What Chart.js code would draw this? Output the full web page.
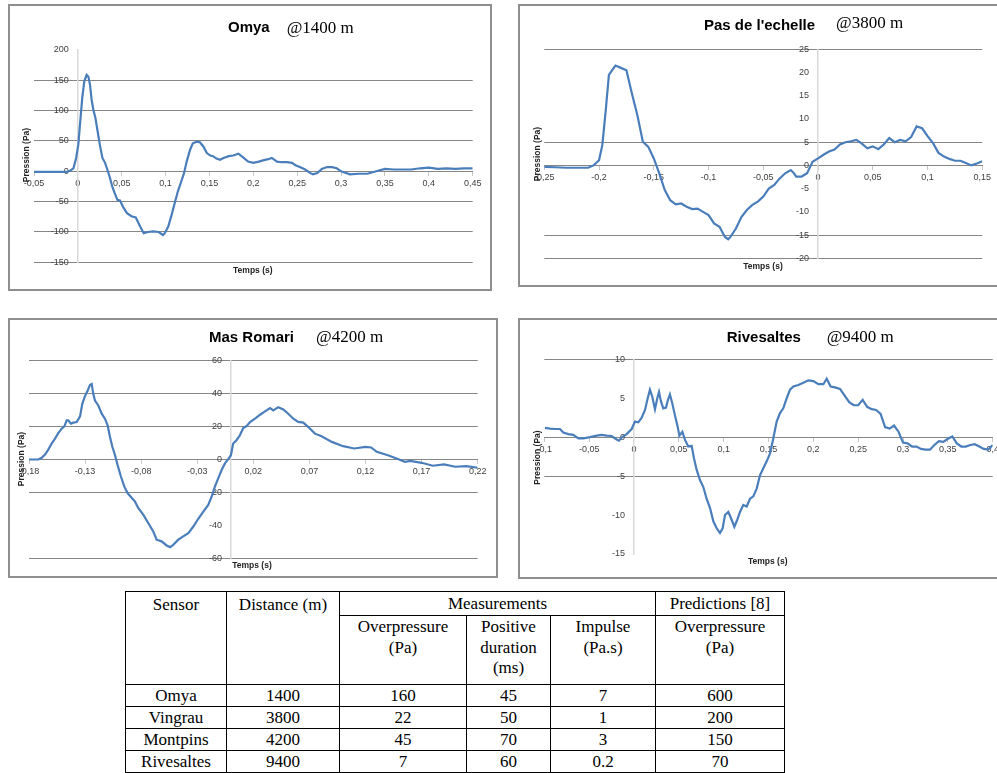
<!DOCTYPE html>
<html lang="fr">
<head>
<meta charset="utf-8">
<title>Pression mesurée aux capteurs</title>
<script src="https://cdn.jsdelivr.net/npm/chart.js@4.4.1/dist/chart.umd.min.js"></script>
<style>
  html, body { margin: 0; padding: 0; background: #fff; }
  body { width: 997px; height: 773px; position: relative; overflow: hidden; }
  .panel { position: absolute; box-sizing: border-box; border: 2px solid #8f8f8f; background: #fff; }
  .panel canvas { display: block; }
  #p1 { left: 8px; top: 4px; width: 484px; height: 287px; }
  #p2 { left: 518px; top: 4px; width: 500px; height: 283px; }
  #p3 { left: 8px; top: 318px; width: 490px; height: 260px; }
  #p4 { left: 518px; top: 318px; width: 500px; height: 261px; }

  #resultsTable { position: absolute; left: 125px; top: 591px; border-collapse: collapse; table-layout: fixed;
    font-family: 'Liberation Serif', 'Times New Roman', serif; font-size: 17px; color: #000; }
  #resultsTable th, #resultsTable td { border: 1px solid #000; text-align: center; font-weight: normal; padding: 0; line-height: 20px; }
  #resultsTable .h1 { height: 24px; }
  #resultsTable .h1 th { vertical-align: middle; }
  #resultsTable .h1 th.top { vertical-align: top; padding-top: 3px; }
  #resultsTable .h2 { height: 69px; }
  #resultsTable .h2 th { vertical-align: top; padding-top: 1px; line-height: 20.5px; }
  #resultsTable tbody tr { height: 22px; }
</style>
</head>
<body>

<div class="panel" id="p1"><canvas id="omyaChart" width="480" height="283"></canvas></div>
<div class="panel" id="p2"><canvas id="pasChart" width="496" height="279"></canvas></div>
<div class="panel" id="p3"><canvas id="masChart" width="486" height="256"></canvas></div>
<div class="panel" id="p4"><canvas id="rivChart" width="496" height="257"></canvas></div>

<table id="resultsTable">
  <colgroup>
    <col style="width:101px"><col style="width:113px"><col style="width:127px">
    <col style="width:84px"><col style="width:105px"><col style="width:129px">
  </colgroup>
  <thead>
    <tr class="h1">
      <th rowspan="2" class="top">Sensor</th>
      <th rowspan="2" class="top">Distance (m)</th>
      <th colspan="3">Measurements</th>
      <th>Predictions [8]</th>
    </tr>
    <tr class="h2">
      <th>Overpressure<br>(Pa)</th>
      <th>Positive<br>duration<br>(ms)</th>
      <th>Impulse<br>(Pa.s)</th>
      <th>Overpressure<br>(Pa)</th>
    </tr>
  </thead>
  <tbody></tbody>
</table>

<script>
// Omya @1400 m
const omyaTime = [-0.05, -0.03, -0.013, -0.009, -0.005, -0.002, 0.0005, 0.0024, 0.005, 0.0073, 0.010, 0.012, 0.0138, 0.0157, 0.0176, 0.020, 0.0225, 0.025, 0.028, 0.031, 0.0336, 0.0366, 0.0396, 0.042, 0.045, 0.048, 0.052, 0.056, 0.061, 0.066, 0.071, 0.075, 0.080, 0.086, 0.092, 0.097, 0.099, 0.103, 0.107, 0.111, 0.114, 0.118, 0.121, 0.124, 0.128, 0.131, 0.1355, 0.139, 0.143, 0.147, 0.151, 0.154, 0.158, 0.162, 0.166, 0.172, 0.177, 0.183, 0.189, 0.194, 0.2, 0.206, 0.211, 0.217, 0.221, 0.227, 0.232, 0.238, 0.244, 0.248, 0.253, 0.259, 0.265, 0.268, 0.273, 0.278, 0.284, 0.29, 0.295, 0.3, 0.31, 0.32, 0.33, 0.34, 0.35, 0.36, 0.37, 0.38, 0.39, 0.40, 0.41, 0.42, 0.43, 0.44, 0.45];
const omyaPressure = [-1, -1, -1, 1, 5, 22, 44, 77, 121, 148, 159, 156, 143, 118, 102, 88, 66, 44, 22, 14, 3, -11, -27, -36, -47, -48, -60, -69, -74, -76, -91, -102, -100, -99, -100, -105, -102, -91, -71, -49, -33, -16, -3, 16, 36, 46, 49, 48, 41, 30, 26, 25, 21, 19, 22, 25, 26, 29, 22, 16, 14, 16, 18, 20, 22, 16, 15, 15, 14, 10, 7, 3, -3, -5, -3, 4, 7, 7, 5, 0, -5, -4, -4, 0, 4, 3, 3, 3, 5, 6, 4, 5, 4, 5, 5];
const omyaXTicks = [-0.05, 0, 0.05, 0.1, 0.15, 0.2, 0.25, 0.3, 0.35, 0.4, 0.45];
const omyaYTicks = [-150, -100, -50, 0, 50, 100, 150, 200];

// Pas de l'echelle @3800 m
const pasTime = [-0.25, -0.24, -0.23, -0.22, -0.21, -0.205, -0.2, -0.197, -0.194, -0.191, -0.188, -0.185, -0.18, -0.175, -0.17, -0.165, -0.16, -0.155, -0.15, -0.145, -0.14, -0.135, -0.13, -0.125, -0.12, -0.115, -0.11, -0.105, -0.1, -0.095, -0.09, -0.085, -0.082, -0.08, -0.075, -0.07, -0.065, -0.06, -0.055, -0.05, -0.045, -0.04, -0.035, -0.03, -0.025, -0.022, -0.02, -0.015, -0.01, -0.005, 0, 0.005, 0.01, 0.015, 0.02, 0.025, 0.03, 0.035, 0.04, 0.045, 0.05, 0.055, 0.06, 0.065, 0.07, 0.075, 0.08, 0.085, 0.09, 0.095, 0.1, 0.105, 0.11, 0.115, 0.12, 0.125, 0.13, 0.135, 0.14, 0.145, 0.15];
const pasPressure = [-0.3, -0.4, -0.5, -0.5, -0.5, 0, 1.1, 4.4, 11.6, 19.5, 20.5, 21.5, 21, 20.5, 15.5, 10.8, 5.1, 4, 1.5, -1.7, -5.3, -7.5, -8.4, -8.2, -8.9, -9.4, -9.3, -10, -10.7, -12.5, -13.2, -15.4, -15.9, -15.4, -13.6, -11.1, -9.6, -8.5, -7.8, -6.7, -5, -4.2, -2.8, -1.7, -1, -1.7, -2.4, -2.4, -1.7, 0.8, 1.5, 2.3, 3, 3.4, 4.5, 5, 5.2, 5.5, 4.7, 3.7, 4.1, 3.5, 4.5, 5.9, 5, 5.5, 5.2, 6.1, 8.4, 8, 6.3, 4.8, 2.7, 1.9, 1.4, 1, 1, 0.5, 0, 0.4, 0.9];
const pasXTicks = [-0.25, -0.2, -0.15, -0.1, -0.05, 0, 0.05, 0.1, 0.15];
const pasYTicks = [-20, -15, -10, -5, 0, 5, 10, 15, 20, 25];

// Mas Romari @4200 m
const masTime = [-0.18, -0.1717, -0.1687, -0.1657, -0.1628, -0.1598, -0.1568, -0.1539, -0.1509, -0.1485, -0.1464, -0.145, -0.1426, -0.1405, -0.1375, -0.1345, -0.1325, -0.1301, -0.1277, -0.1256, -0.1241, -0.1227, -0.1212, -0.1182, -0.1152, -0.1123, -0.1099, -0.1078, -0.1057, -0.1033, -0.101, -0.098, -0.095, -0.092, -0.0885, -0.0855, -0.0825, -0.078, -0.0736, -0.0692, -0.0662, -0.0618, -0.0573, -0.0543, -0.0514, -0.0469, -0.0425, -0.038, -0.0335, -0.0291, -0.0246, -0.0202, -0.0172, -0.0143, -0.0113, -0.0083, -0.0053, -0.0024, 0, 0.002, 0.005, 0.008, 0.011, 0.014, 0.017, 0.0215, 0.026, 0.0304, 0.0349, 0.0378, 0.0422, 0.0467, 0.0511, 0.0556, 0.06, 0.0645, 0.069, 0.0749, 0.0808, 0.09, 0.1, 0.11, 0.12, 0.125, 0.13, 0.14, 0.15, 0.155, 0.16, 0.17, 0.18, 0.19, 0.2, 0.21, 0.22];
const masPressure = [0, 0, 1, 3, 6, 9.7, 12.7, 16, 18.7, 20.1, 23.8, 23.8, 21.8, 22.4, 22.8, 26.2, 33.8, 38.5, 41.9, 45.3, 45.9, 39.9, 35.8, 32.8, 27.8, 24.8, 20.7, 13.7, 7.7, 2.6, -3.4, -10.5, -16.5, -20.5, -23.2, -25.6, -29.6, -33.6, -38.7, -43.7, -48.7, -49.7, -52.2, -53.2, -51.8, -48.7, -46.7, -44.7, -40.7, -36, -31.6, -27.6, -22.6, -16.5, -11.5, -6.4, -2.4, 0.2, 2.6, 9.7, 11.7, 14.7, 19.1, 20.3, 22.8, 24.8, 27.2, 29.2, 31.2, 29.8, 31.8, 30.4, 27.8, 24.8, 22.8, 22.4, 19.7, 15.7, 14.1, 10.7, 8.1, 6.7, 7.7, 7.3, 4.7, 2.6, 0, -1.4, -0.8, -2, -3.8, -3, -4.4, -4, -5];
const masXTicks = [-0.18, -0.13, -0.08, -0.03, 0.02, 0.07, 0.12, 0.17, 0.22];
const masYTicks = [-60, -40, -20, 0, 20, 40, 60];

// Rivesaltes @9400 m
const rivTime = [-0.0993, -0.0937, -0.088, -0.0825, -0.0788, -0.0732, -0.0677, -0.062, -0.0565, -0.049, -0.0416, -0.036, -0.0305, -0.025, -0.0193, -0.0167, -0.0138, -0.0082, -0.0026, 0.0011, 0.0048, 0.0086, 0.0123, 0.0149, 0.0178, 0.0204, 0.0234, 0.026, 0.0279, 0.0301, 0.0327, 0.0357, 0.0379, 0.0401, 0.0428, 0.0457, 0.0487, 0.0506, 0.0539, 0.0569, 0.0606, 0.0643, 0.0669, 0.0699, 0.0736, 0.0773, 0.081, 0.0848, 0.0885, 0.0922, 0.0959, 0.0989, 0.1015, 0.1052, 0.1089, 0.1119, 0.1152, 0.1182, 0.1219, 0.1257, 0.1294, 0.1331, 0.1368, 0.1405, 0.1442, 0.148, 0.1517, 0.1554, 0.1591, 0.1628, 0.1665, 0.1703, 0.174, 0.1777, 0.1833, 0.1888, 0.1944, 0.2, 0.2056, 0.2112, 0.2149, 0.2193, 0.2242, 0.2297, 0.24, 0.245, 0.25, 0.255, 0.26, 0.265, 0.27, 0.275, 0.28, 0.285, 0.29, 0.295, 0.30, 0.305, 0.31, 0.315, 0.32, 0.325, 0.33, 0.335, 0.34, 0.345, 0.35, 0.355, 0.36, 0.365, 0.37, 0.375, 0.38, 0.385, 0.39, 0.395, 0.40];
const rivPressure = [1.2, 1.1, 1.05, 1.05, 0.6, 0.4, 0.3, -0.15, -0.15, 0, 0.2, 0.3, 0.2, 0.15, -0.3, -0.45, -0.05, 0.4, 1.05, 2, 1.9, 2.5, 3.5, 4.8, 6.1, 5.2, 3.6, 5.0, 5.8, 4.6, 3.7, 3.8, 4.8, 5.5, 4.3, 2.8, 1.35, 0.2, 0.7, -0.35, -1.2, -1.1, -2.7, -4.2, -5.5, -6.4, -7.9, -9.1, -10.8, -11.7, -12.3, -11.7, -10, -9.6, -10.6, -11.5, -10.6, -9.6, -8.7, -8.9, -7.9, -7.6, -6.6, -4.9, -4, -3.1, -2.1, -0.15, 2, 3.1, 3.7, 5, 6.1, 6.5, 6.7, 7, 7.3, 7.2, 6.8, 6.8, 7.5, 6.5, 6.4, 6.2, 4.5, 4.1, 4.1, 4.8, 3.9, 3.6, 3.5, 3, 1.3, 1.1, 1.5, 0.7, -0.7, -0.8, -1.2, -1.2, -1.5, -1.6, -1.6, -1, -0.5, -0.6, -0.2, 0.1, -0.8, -1.2, -1.2, -1, -0.9, -1.2, -1.5, -1.6, -1];
const rivXTicks = [-0.1, -0.05, 0, 0.05, 0.1, 0.15, 0.2, 0.25, 0.3, 0.35, 0.4];
const rivYTicks = [-15, -10, -5, 0, 5, 10];

// Tableau des mesures
const sensorNames = ['Omya', 'Vingrau', 'Montpins', 'Rivesaltes'];
const sensorDistances = [1400, 3800, 4200, 9400];
const measuredOverpressure = [160, 22, 45, 7];
const positiveDuration = [45, 50, 70, 60];
const measuredImpulse = ['7', '1', '3', '0.2'];
const predictedOverpressure = [600, 200, 150, 70];

Chart.defaults.font.family = "'Liberation Sans', Arial, sans-serif";

function fmt(v) {
    return String(v).replace('.', ',');
}

// titre du graphe + titres des axes, placés comme dans la figure Excel
const panelText = {
    id: 'panelText',
    afterDraw(chart, args, opts) {
        const ctx = chart.ctx;
        ctx.save();
        ctx.fillStyle = '#000';
        ctx.textAlign = 'left';
        ctx.textBaseline = 'alphabetic';
        ctx.font = "bold 15px 'Liberation Sans', Arial, sans-serif";
        ctx.fillText(opts.name, opts.nameX, opts.nameY);
        ctx.font = "17px 'Liberation Serif', 'Times New Roman', serif";
        ctx.fillText(opts.at, opts.atX, opts.atY);

        ctx.fillStyle = '#222';
        ctx.font = "bold 8.5px 'Liberation Sans', Arial, sans-serif";
        ctx.textAlign = 'center';
        ctx.textBaseline = 'middle';
        ctx.fillText(opts.xTitle, opts.xTitleX, opts.xTitleY);
        ctx.translate(opts.yTitleX, opts.yTitleY);
        ctx.rotate(-Math.PI / 2);
        ctx.fillText(opts.yTitle, 0, 0);
        ctx.restore();
    }
};

function makeChart(canvasId, time, pressure, xTicks, yTicks, hiddenGrid, padding, text) {
    const config = {
        type: 'line',
        data: {
            datasets: [{
                label: text.name,
                data: time.map((t, i) => ({ x: t, y: pressure[i] })),
                borderColor: '#4a7ebb',
                borderWidth: 2.2,
                pointRadius: 0,
                tension: 0,
                fill: false
            }]
        },
        options: {
            responsive: false,
            animation: false,
            events: [],
            layout: { padding: padding },
            plugins: {
                legend: { display: false },
                tooltip: { enabled: false },
                panelText: text
            },
            scales: {
                x: {
                    type: 'linear',
                    position: { y: 0 },
                    min: xTicks[0],
                    max: xTicks[xTicks.length - 1],
                    afterBuildTicks: scale => { scale.ticks = xTicks.map(v => ({ value: v })); },
                    grid: { drawOnChartArea: false, drawTicks: true, tickLength: 4, tickColor: '#c8c8c8' },
                    border: { display: true, color: '#868686', width: 1 },
                    ticks: {
                        autoSkip: false, maxRotation: 0, minRotation: 0, padding: 3,
                        color: '#404040', font: { size: 9 },
                        callback: v => fmt(v)
                    }
                },
                y: {
                    type: 'linear',
                    position: { x: 0 },
                    min: yTicks[0],
                    max: yTicks[yTicks.length - 1],
                    afterBuildTicks: scale => { scale.ticks = yTicks.map(v => ({ value: v })); },
                    grid: {
                        drawTicks: false,
                        lineWidth: 1,
                        color: c => (c.tick && hiddenGrid.includes(c.tick.value)) ? 'rgba(0,0,0,0)' : '#868686'
                    },
                    border: { display: true, color: '#d9d9d9', width: 1.5 },
                    ticks: {
                        color: '#404040', font: { size: 9 },
                        // un axe placé en x=0 ignore ticks.padding : on décale avec deux demi-cadratins
                        callback: v => fmt(v) + '\u2002\u2002'
                    }
                }
            }
        },
        plugins: [panelText]
    };
    return new Chart(document.getElementById(canvasId), config);
}

var omyaChart = makeChart('omyaChart', omyaTime, omyaPressure, omyaXTicks, omyaYTicks, [200],
    { left: 24, top: 44, right: 17.3, bottom: 26.7 },
    { name: 'Omya', at: '@1400 m', nameX: 218, nameY: 25.7, atX: 276.7, atY: 26.7,
      xTitle: 'Temps (s)', xTitleX: 242.8, xTitleY: 265, yTitle: 'Pression (Pa)', yTitleX: 16.7, yTitleY: 149 });

var pasChart = makeChart('pasChart', pasTime, pasPressure, pasXTicks, pasYTicks, [20, 15, 10, -5, -10],
    { left: 24.3, top: 43.3, right: 33.7, bottom: 26.7 },
    { name: "Pas de l'echelle", at: '@3800 m', nameX: 184, nameY: 24, atX: 316, atY: 21.5,
      xTitle: 'Temps (s)', xTitleX: 243, xTitleY: 260.7, yTitle: 'Pression (Pa)', yTitleX: 17.3, yTitleY: 148 });

var masChart = makeChart('masChart', masTime, masPressure, masXTicks, masYTicks, [-40],
    { left: 19, top: 40.7, right: 18.3, bottom: 17.7 },
    { name: 'Mas Romari', at: '@4200 m', nameX: 199, nameY: 22.3, atX: 306, atY: 21.7,
      xTitle: 'Temps (s)', xTitleX: 242, xTitleY: 246, yTitle: 'Pression (Pa)', yTitleX: 11.7, yTitleY: 139 });

var rivChart = makeChart('rivChart', rivTime, rivPressure, rivXTicks, rivYTicks, [5, -10, -15],
    { left: 24.3, top: 39.3, right: 23.3, bottom: 23 },
    { name: 'Rivesaltes', at: '@9400 m', nameX: 206.7, nameY: 22.3, atX: 306.7, atY: 22,
      xTitle: 'Temps (s)', xTitleX: 247.7, xTitleY: 242, yTitle: 'Pression (Pa)', yTitleX: 17.7, yTitleY: 137.5 });

// Lignes du tableau
const resultsBody = document.getElementById('resultsTable').getElementsByTagName('tbody')[0];
sensorNames.forEach((name, i) => {
    const row = resultsBody.insertRow();
    row.insertCell(0).innerText = name;
    row.insertCell(1).innerText = sensorDistances[i];
    row.insertCell(2).innerText = measuredOverpressure[i];
    row.insertCell(3).innerText = positiveDuration[i];
    row.insertCell(4).innerText = measuredImpulse[i];
    row.insertCell(5).innerText = predictedOverpressure[i];
});
</script>
</body>
</html>
